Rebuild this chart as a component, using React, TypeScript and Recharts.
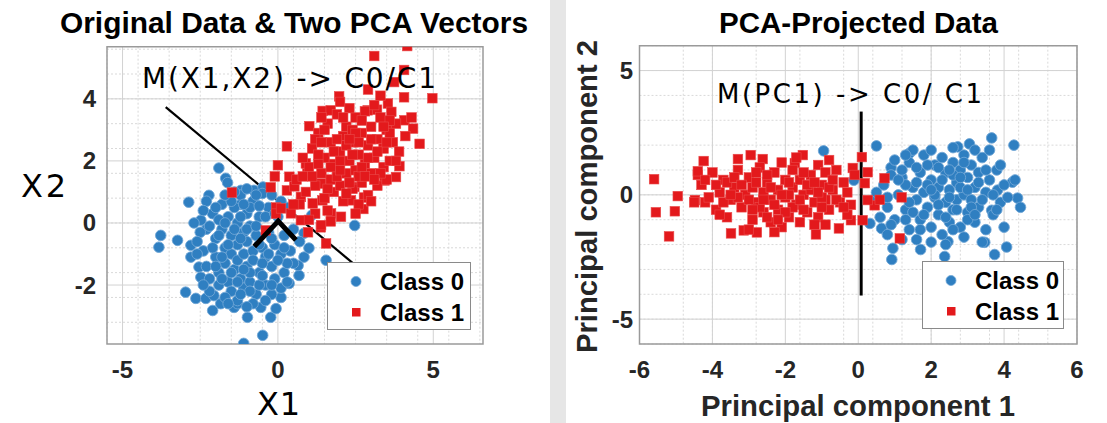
import React from 'react';
import { ScatterChart, Scatter, XAxis, YAxis, CartesianGrid, ReferenceLine, ReferenceArea, Legend } from 'recharts';

// ---------- data: original space (X1, X2) ----------
const origClass0: [number, number][] = [
  [-1.9, 1.77], [-1.68, 1.44], [-1.62, 1.3], [-2.22, 0.89], [-2.87, 0.67], [-3.77, -0.4], [-3.83, -0.78],
  [-3.23, -0.56], [-2.8, -0.72], [-2.48, 0.09], [-2.3, -0.2], [-2.97, -2.23], [-2.64, -2.43], [-2.32, -2.43],
  [-2.1, -2.82], [-1.84, -2.6], [-2.06, -2.34], [-1.41, -2.72], [-1.3, -2.6], [-0.98, -3.04], [-0.55, -2.72],
  [-0.49, -3.62], [-1.1, -3.88], [-0.23, -3.04], [-0.06, -2.76], [0.1, -2.4], [0.1, -2.1], [0.36, -1.95],
  [0.68, -1.69], [0.65, -1.37], [0.84, -1.1], [1.0, -0.81], [0.84, -0.33], [1.09, 0.25], [1.55, -1.2],
  [2.47, -0.08], [-2.8, -1.1], [-2.54, -1.42], [-2.48, -1.75], [-1.19, 1.05], [-0.77, 1.05], [-0.48, 1.16],
  [-1.19, 0.6],
  [-2.5, -0.3], [-2.4, -0.9], [-2.3, -1.4], [-2.2, -1.8], [-2.1, 0.3], [-2.0, -0.5], [-2.0, -1.1], [-1.9, -1.6],
  [-1.9, -2.0], [-1.8, 0.6], [-1.8, -0.2], [-1.7, -0.8], [-1.7, -1.3], [-1.6, 0.2], [-1.6, -1.9], [-1.5, -0.4],
  [-1.5, -1.0], [-1.5, -2.2], [-1.4, 0.5], [-1.4, -1.5], [-1.3, 0.0], [-1.3, -0.7], [-1.3, -1.2], [-1.2, -1.8],
  [-1.2, 0.9], [-1.1, -0.3], [-1.1, -1.0], [-1.1, -2.1], [-1.0, 0.3], [-1.0, -0.6], [-1.0, -1.4], [-0.9, -1.9],
  [-0.9, -0.1], [-0.8, 0.7], [-0.8, -0.9], [-0.8, -1.2], [-0.7, -2.3], [-0.7, -0.4], [-0.6, 0.2], [-0.6, -1.6],
  [-0.5, -0.8], [-0.5, 0.95], [-0.4, -1.1], [-0.4, -2.0], [-0.3, 0.5], [-0.3, -0.3], [-0.2, -1.4], [-0.1, -0.7],
  [-0.1, -1.8], [0.0, 0.2], [0.1, -1.0], [0.2, -0.4], [0.2, -1.6], [0.3, 0.5], [0.4, -0.9], [0.5, -1.3],
  [0.5, -0.2], [-2.6, -0.6], [-2.7, 0.0], [-2.2, -2.2], [-1.9, 0.1], [-2.3, 0.7], [-1.0, 1.1], [-0.7, 0.9],
  [-1.4, 1.0], [0.1, 0.7], [-0.2, 0.9], [-1.6, -0.7], [-1.2, -0.5], [-0.9, -1.6], [-0.6, -2.0], [-0.3, -1.0],
  [-1.8, -1.1], [-2.4, -2.0], [-1.3, -2.5], [-0.8, -2.6], [-1.7, -2.4], [0.7, -0.6], [0.3, -1.3], [-0.2, -2.3],
  [-2.1, -0.8], [-1.9, -0.4], [-1.7, 0.0], [-1.5, 0.7], [-1.4, -0.2], [-1.2, 0.2], [-1.0, -0.2], [-0.9, 0.5],
  [-0.7, -0.1], [-0.6, -0.7], [-0.5, -1.3], [-0.4, 0.2], [-0.2, -0.5], [-0.1, 0.3], [0.0, -1.2], [0.2, -0.8],
  [-1.5, -1.6], [-1.3, -1.9], [-1.1, -1.5], [-0.9, -2.2], [-0.5, -1.7], [-2.0, -1.4], [-1.8, -1.8], [-1.6, -2.6],
  [-1.2, -2.3], [-2.2, -0.1], [-2.6, -1.0], [-0.4, -2.5], [0.3, -1.9], [-1.0, -2.7], [-0.2, -2.0], [-1.7, 0.9],
  [-2.0, 0.5], [-1.1, 0.6], [-0.6, 0.55], [-2.4, 0.4],
];

const origClass1: [number, number][] = [
  [4.16, 5.7], [3.1, 5.38], [3.74, 4.54], [4.06, 4.93], [4.97, 4.02], [4.06, 4.05], [1.97, 4.08], [1.44, 3.61],
  [1.7, 3.63], [1.01, 3.12], [0.29, 2.47], [0.0, 1.86], [-0.1, 1.5], [-0.23, 1.15], [4.56, 2.55], [3.91, 1.83],
  [3.8, 1.48], [3.43, 1.37], [2.77, 0.82], [2.75, 0.45], [2.03, 0.2], [1.71, 0.31], [-0.06, 0.5], [-0.39, -0.24],
  [-1.48, 0.98], [-0.06, 0.3], [0.74, 0.09], [1.38, -0.14], [0.97, -0.3], [1.55, -0.66], [0.29, 1.05],
  [2.89, 3.63], [3.19, 3.65], [3.54, 3.85], [3.65, 3.58], [4.07, 3.31], [4.35, 3.04], [0.37, 1.49], [0.53, 1.18],
  [0.9, 1.92], [0.95, 1.6], [1.39, 1.27], [0.74, 0.84], [1.12, 0.63], [1.43, 0.73], [2.35, 0.73], [2.46, 1.16],
  [1.39, -0.07], [0.42, 0.31], [0.1, 0.47],
  [1.0, 1.8], [1.1, 2.4], [1.2, 1.2], [1.3, 2.9], [1.4, 1.6], [1.5, 2.1], [1.5, 0.8], [1.6, 3.2], [1.7, 1.4],
  [1.7, 2.6], [1.8, 1.0], [1.8, 1.9], [1.9, 3.5], [2.0, 2.3], [2.0, 1.2], [2.1, 2.8], [2.1, 0.7], [2.2, 1.6],
  [2.2, 3.1], [2.3, 2.0], [2.4, 1.1], [2.4, 2.6], [2.5, 3.4], [2.5, 1.7], [2.6, 0.6], [2.6, 2.2], [2.7, 2.9],
  [2.7, 1.3], [2.8, 1.9], [2.8, 3.6], [2.9, 2.5], [2.9, 0.9], [3.0, 1.6], [3.0, 3.1], [3.1, 2.1], [3.2, 2.7],
  [3.2, 1.2], [3.3, 3.4], [3.4, 1.8], [3.4, 2.4], [3.5, 3.0], [3.6, 2.0], [3.7, 2.6], [3.8, 3.2], [3.9, 2.3],
  [0.6, 1.4], [0.7, 0.6], [0.8, 2.1], [0.9, 1.0], [0.5, 0.6], [1.2, 0.3], [1.0, 0.1], [1.6, 0.4], [2.3, 3.7],
  [2.0, 3.9], [1.4, 3.4], [3.1, 3.8], [3.6, 3.3], [3.3, 4.1], [4.1, 2.8], [4.3, 3.4], [2.9, 4.3], [1.7, 0.05],
  [2.5, 0.3], [3.0, 0.7], [1.3, 2.2], [2.2, 2.5], [2.6, 1.5], [1.9, 1.5], [3.5, 1.4], [2.4, 3.0], [1.2, 2.7],
  [1.6, 1.1], [1.8, 2.3], [2.0, 1.7], [2.1, 3.4], [2.3, 1.3], [2.4, 2.2], [2.6, 2.6], [2.7, 1.8], [2.9, 2.1],
  [3.0, 2.7], [3.2, 2.3], [3.3, 1.6], [3.5, 2.6], [3.6, 2.9], [1.4, 2.6], [1.9, 2.7], [2.2, 0.95], [2.8, 1.5],
  [3.1, 1.4], [1.1, 1.5], [1.7, 1.8], [2.5, 2.9], [3.4, 3.1], [2.0, 2.0], [1.3, 1.9], [2.7, 3.3], [3.8, 2.0],
  [1.5, 3.0], [0.8, 1.5], [2.3, 2.7],
];

// ---------- data: PCA-projected space (PC1, PC2) ----------
const pcaClass0: [number, number][] = [
  [0.5, 1.97], [3.66, 2.29], [4.27, 2.0], [3.05, 2.05], [2.73, 1.93], [1.41, 1.68], [4.23, 0.51], [4.37, -0.13],
  [4.45, -0.5], [4.07, -2.1], [3.74, -2.4], [3.47, -1.91], [2.37, -2.48], [1.71, -2.2], [0.95, -2.15], [0.92, -2.6],
  [2.46, -1.88], [0.4, -0.21], [0.32, -1.15], [0.64, -1.35], [-0.95, 1.77], [-0.12, 0.59], [3.82, 0.19], [3.66, -0.62],
  [0.7, 0.4], [0.8, -0.5], [0.9, 1.1], [1.0, -1.0], [1.1, 0.0], [1.2, 0.7], [1.3, -0.6], [1.4, 1.3], [1.4, -1.4],
  [1.5, 0.3], [1.6, -0.2], [1.7, 0.9], [1.7, -1.0], [1.8, 1.6], [1.8, 0.1], [1.9, -0.5], [2.0, 0.6], [2.0, -1.3],
  [2.1, 1.2], [2.1, -0.1], [2.2, 0.3], [2.2, -0.8], [2.3, 1.5], [2.3, -1.6], [2.4, 0.9], [2.4, -0.3], [2.5, 0.2],
  [2.5, -1.1], [2.6, 1.3], [2.6, -0.6], [2.7, 0.5], [2.7, -0.2], [2.8, 1.0], [2.8, -1.3], [2.9, 0.0], [2.9, 1.6],
  [3.0, -0.7], [3.0, 0.7], [3.1, -0.2], [3.1, 1.2], [3.2, 0.3], [3.2, -1.1], [3.3, 0.9], [3.3, -0.5], [3.4, 1.5],
  [3.5, 0.1], [3.5, -1.4], [3.6, 0.6], [3.7, -0.8], [3.8, 1.0], [3.9, -0.3], [4.0, 0.4], [1.2, -1.8], [0.6, -0.9],
  [0.9, 0.8], [1.5, 1.8], [2.0, 1.8], [2.6, 1.9], [3.2, 1.8], [3.6, 1.8], [4.0, -1.3], [3.9, 1.2], [1.6, -1.8],
  [2.9, -1.7], [0.5, 0.1], [1.3, 0.4], [2.4, -2.0], [3.4, -1.9], [4.3, 0.6], [1.0, 1.4], [1.9, 0.4], [2.8, 0.3],
  [2.2, -0.4], [3.0, -1.0], [1.3, -1.0], [2.6, 0.8], [0.8, -1.6], [3.7, 0.0], [2.0, -1.9], [1.6, 1.1],
  [1.1, 0.6], [1.4, -0.3], [1.6, 0.5], [1.8, -0.8], [1.9, 1.2], [2.1, 0.0], [2.3, 0.6], [2.4, -0.9], [2.5, 1.0],
  [2.7, -0.6], [2.8, 0.7], [3.0, 0.2], [3.1, -0.5], [3.3, 0.5], [3.4, -0.2], [2.2, 1.1], [1.7, -1.4], [2.6, -1.4],
  [3.5, 1.0], [0.8, -0.1], [1.2, 1.0], [2.9, 1.3], [1.5, -0.7], [2.0, 0.2], [2.5, -0.1], [3.2, -0.8], [0.9, -1.2],
  [3.8, -0.6], [4.1, -0.1], [1.3, 1.6],
];

const pcaClass1: [number, number][] = [
  [-5.6, 0.63], [-5.55, -0.7], [-5.19, -1.67], [-5.03, -0.66], [-4.95, -0.05], [-4.48, -0.21], [-4.4, 0.8],
  [-4.24, 1.36], [-3.49, -1.55], [-3.3, 1.44], [-2.95, 1.6], [-2.62, 1.44], [-3.14, -1.43], [-2.78, -1.51],
  [-1.52, 1.6], [-1.74, 1.28], [-1.16, -1.59], [-0.53, -1.35], [-0.2, -1.02], [0.1, 1.52], [0.72, 0.67],
  [1.19, -0.1], [1.14, -1.75], [0.45, -0.42], [0.59, -0.2], [0.26, 0.91], [0.18, 0.47], [0.12, -1.02],
  [-0.15, 1.08], [0.26, -0.21],
  [-4.3, 0.4], [-4.2, -0.3], [-4.0, 0.9], [-3.9, -0.6], [-3.8, 0.1], [-3.7, 0.6], [-3.6, -0.9], [-3.5, -0.2],
  [-3.4, 0.3], [-3.3, 1.0], [-3.2, -0.5], [-3.1, 0.0], [-3.0, 0.7], [-2.9, -1.0], [-2.9, 0.3], [-2.8, -0.3],
  [-2.7, 1.1], [-2.6, 0.1], [-2.6, -0.7], [-2.5, 0.5], [-2.4, -1.1], [-2.4, -0.2], [-2.3, 0.9], [-2.2, 0.2],
  [-2.2, -0.6], [-2.1, -1.3], [-2.0, 0.6], [-2.0, -0.1], [-1.9, -0.9], [-1.8, 0.3], [-1.8, 1.0], [-1.7, -0.4],
  [-1.6, -1.1], [-1.6, 0.6], [-1.5, 0.0], [-1.4, -0.7], [-1.3, 0.8], [-1.3, 0.2], [-1.2, -0.3], [-1.1, 1.2],
  [-1.1, -0.9], [-1.0, 0.4], [-0.9, -0.2], [-0.9, 0.9], [-0.8, -0.6], [-0.7, 0.2], [-0.6, 1.0], [-0.5, -0.3],
  [-0.4, 0.5], [-0.3, -0.8], [-0.3, 0.1], [-0.1, 0.8], [-3.6, 0.5], [-2.5, -0.9], [-1.9, 0.0], [-2.7, -0.5],
  [-3.3, -0.1], [-4.5, -0.3], [-4.4, 0.95], [-2.1, 1.3], [-1.2, -1.2], [-0.8, 1.4], [-3.0, -1.4], [-2.3, -1.5],
  [-1.7, 1.5], [-0.2, -0.4], [-1.0, -0.5], [-2.8, 0.9], [-3.9, 0.4], [-1.5, -0.6],
  [-4.1, -0.1], [-3.7, -0.3], [-3.4, 0.7], [-3.2, 0.4], [-3.0, -0.2], [-2.8, 0.5], [-2.6, -0.2], [-2.4, 0.3],
  [-2.3, -0.4], [-2.1, 0.0], [-1.9, 0.5], [-1.8, -0.5], [-1.6, -0.2], [-1.4, 0.4], [-1.2, 0.5], [-1.0, -0.1],
  [-0.8, 0.3], [-0.6, -0.2], [-0.4, -0.5], [-2.5, 0.8], [-2.0, -0.7], [-3.5, 0.0], [-2.9, -0.6], [-1.1, 0.1],
  [-0.7, 0.6], [-3.8, -0.8], [-4.2, 0.6], [-2.2, -1.0], [-1.5, 0.9], [-0.9, -1.2],
];

// ---------- annotation geometry (data coordinates) ----------
const leftBoundary: [number, number][] = [[-3.61, 3.73], [2.42, -1.3]];
const leftChevron: [number, number][] = [[-0.76, -0.76], [0.01, 0.06], [0.58, -0.55]];
const rightBoundary: [number, number][] = [[0.08, 3.35], [0.08, -4.05]];

// ---------- axes ----------
const leftXTicks = [-5, 0, 5];
const leftYTicks = [-2, 0, 2, 4];
const rightXTicks = [-6, -4, -2, 0, 2, 4, 6];
const rightYTicks = [-5, 0, 5];
const leftXDomain: [number, number] = [-5.5, 6.6];
const leftYDomain: [number, number] = [-3.9, 5.68];
const rightXDomain: [number, number] = [-6, 6];
const rightYDomain: [number, number] = [-6, 6];

const toPts = (a: [number, number][]) => a.map(([x, y]) => ({ x, y }));

const gridValues = (dom: [number, number], step: number) => {
  const out: number[] = [];
  const start = Math.ceil(dom[0] / step);
  const end = Math.floor(dom[1] / step);
  for (let i = start; i <= end; i++) out.push(Math.round(i * step * 1000) / 1000);
  return out;
};

const BLUE = '#2f7fc1';
const BLUE_EDGE = '#6fa6d6';
const RED = '#e3191c';
const RED_EDGE = '#ea4b4b';
const SANS = '"Liberation Sans", Arial, sans-serif';
const DEJAVU = '"DejaVu Sans", sans-serif';
const TICK_COLOR = '#262626';

const Circle = (p: any) => (
  <circle cx={p.cx} cy={p.cy} r={5.3} fill={BLUE} stroke={BLUE_EDGE} strokeWidth={0.9} />
);
const Square = (p: any) => (
  <rect x={p.cx - 4.8} y={p.cy - 4.8} width={9.6} height={9.6} fill={RED} stroke={RED_EDGE} strokeWidth={0.6} />
);
const Empty = () => <g />;

const makeXTick = () => (p: any) => (
  <text x={p.x} y={p.y + 34} textAnchor="middle" fontFamily={SANS} fontWeight="bold" fontSize={24} fill={TICK_COLOR}>
    {String(p.payload.value)}
  </text>
);
const makeYTick = (gap: number) => (p: any) => (
  <text x={p.x - gap} y={p.y + 8.5} textAnchor="end" fontFamily={SANS} fontWeight="bold" fontSize={24} fill={TICK_COLOR}>
    {String(p.payload.value)}
  </text>
);

const LegendBox = ({ w }: { w: number }) => (
  <div style={{ width: w, height: 68, border: '1px solid #8a8a8a', background: '#fff', boxSizing: 'border-box' }}>
    <svg width={w - 2} height={66} style={{ display: 'block' }}>
      <circle cx={28} cy={18.5} r={5} fill={BLUE} stroke={BLUE_EDGE} strokeWidth={0.8} />
      <text x={52} y={27} fontFamily={SANS} fontWeight="bold" fontSize={24} fill="#000">Class 0</text>
      <rect x={24} y={45} width={8.5} height={8.5} fill={RED} />
      <text x={52} y={57.5} fontFamily={SANS} fontWeight="bold" fontSize={24} fill="#000">Class 1</text>
    </svg>
  </div>
);

const MAJOR = '#d2d2d2';
const MINOR = '#d9d9d9';
const BOX = '#9a9a9a';

export default function App() {
  const o0 = toPts(origClass0);
  const o1 = toPts(origClass1);
  const p0 = toPts(pcaClass0);
  const p1 = toPts(pcaClass1);
  const chev = toPts(leftChevron);
  const lb = toPts(leftBoundary);
  const rb = toPts(rightBoundary);

  return (
    <div style={{ position: 'absolute', left: 0, top: 0, width: 1107, height: 423, background: '#fff', overflow: 'hidden' }}>
      {/* left panel */}
      <div style={{ position: 'absolute', left: 0, top: 0 }}>
        <ScatterChart width={560} height={423} margin={{ top: 46.7, right: 77, bottom: 0, left: 0 }}>
          <CartesianGrid
            verticalValues={gridValues(leftXDomain, 0.5)}
            horizontalValues={gridValues(leftYDomain, 0.4)}
            stroke={MINOR}
            strokeDasharray="2 2"
          />
          <CartesianGrid verticalValues={leftXTicks} horizontalValues={leftYTicks} stroke={MAJOR} />
          <XAxis type="number" dataKey="x" domain={leftXDomain} ticks={leftXTicks} allowDataOverflow
            axisLine={false} tickLine={false} tickSize={0} tickMargin={0} height={79} tick={makeXTick()} />
          <YAxis type="number" dataKey="y" domain={leftYDomain} ticks={leftYTicks} allowDataOverflow
            axisLine={false} tickLine={false} tickSize={0} tickMargin={0} width={107} tick={makeYTick(11)} />
          <ReferenceArea x1={leftXDomain[0]} x2={leftXDomain[1]} y1={leftYDomain[0]} y2={leftYDomain[1]}
            fill="none" stroke={BOX} strokeWidth={1.5} fillOpacity={0} ifOverflow="visible" />
          <Scatter name="Class 0" data={o0} shape={Circle} isAnimationActive={false} />
          <Scatter name="Class 1" data={o1} shape={Square} isAnimationActive={false} />
          <ReferenceLine segment={[lb[0], lb[1]]} stroke="#000" strokeWidth={2.2} ifOverflow="visible" />
          <Scatter data={chev} shape={Empty} line={{ stroke: '#000', strokeWidth: 5 }} legendType="none" isAnimationActive={false} />
          <Legend layout="horizontal" verticalAlign="middle" align="center"
            wrapperStyle={{ left: 327, top: 262, width: 144, height: 68 }}
            content={() => <LegendBox w={144} />} />
        </ScatterChart>
      </div>

      {/* right panel */}
      <div style={{ position: 'absolute', left: 560, top: 0 }}>
        <ScatterChart width={547} height={423} margin={{ top: 45.7, right: 30, bottom: 0, left: 0 }}>
          <CartesianGrid
            verticalValues={gridValues(rightXDomain, 0.4)}
            horizontalValues={gridValues(rightYDomain, 0.5)}
            stroke={MINOR}
            strokeDasharray="2 2"
          />
          <CartesianGrid verticalValues={rightXTicks} horizontalValues={rightYTicks} stroke={MAJOR} />
          <XAxis type="number" dataKey="x" domain={rightXDomain} ticks={rightXTicks} allowDataOverflow
            axisLine={false} tickLine={false} tickSize={0} tickMargin={0} height={79} tick={makeXTick()} />
          <YAxis type="number" dataKey="y" domain={rightYDomain} ticks={rightYTicks} allowDataOverflow
            axisLine={false} tickLine={false} tickSize={0} tickMargin={0} width={79.5} tick={makeYTick(6.5)} />
          <ReferenceArea x1={rightXDomain[0]} x2={rightXDomain[1]} y1={rightYDomain[0]} y2={rightYDomain[1]}
            fill="none" stroke={BOX} strokeWidth={1.5} fillOpacity={0} ifOverflow="visible" />
          <Scatter name="Class 0" data={p0} shape={Circle} isAnimationActive={false} />
          <Scatter name="Class 1" data={p1} shape={Square} isAnimationActive={false} />
          <ReferenceLine segment={[rb[0], rb[1]]} stroke="#000" strokeWidth={3} ifOverflow="visible" />
          <Legend layout="horizontal" verticalAlign="middle" align="center"
            wrapperStyle={{ left: 361.7, top: 261, width: 142, height: 68 }}
            content={() => <LegendBox w={142} />} />
        </ScatterChart>
      </div>

      {/* separator band */}
      <div style={{ position: 'absolute', left: 550, top: 0, width: 16, height: 423, background: '#e6e6e6' }} />

      {/* text overlay */}
      <svg width={1107} height={423} style={{ position: 'absolute', left: 0, top: 0, pointerEvents: 'none' }}>
        <text x={60} y={33} textLength={468} lengthAdjust="spacingAndGlyphs" fontFamily={SANS} fontWeight="bold" fontSize={29} fill="#000">
          Original Data &amp; Two PCA Vectors
        </text>
        <text x={719} y={33} textLength={279} lengthAdjust="spacingAndGlyphs" fontFamily={SANS} fontWeight="bold" fontSize={29} fill="#000">
          PCA-Projected Data
        </text>
        <text x={142} y={88} textLength={294} lengthAdjust="spacing" fontFamily={DEJAVU} fontSize={28} fill="#000">
          M(X1,X2) -&gt; C0/C1
        </text>
        <text x={717} y={103} textLength={265} lengthAdjust="spacing" fontFamily={DEJAVU} fontSize={26} fill="#000">
          M(PC1) -&gt; C0/ C1
        </text>
        <text x={257} y={415} textLength={43} lengthAdjust="spacing" fontFamily={DEJAVU} fontSize={32} fill="#000">X1</text>
        <text x={21} y={197} textLength={45} lengthAdjust="spacing" fontFamily={DEJAVU} fontSize={32} fill="#000">X2</text>
        <text x={701} y={416} textLength={314} lengthAdjust="spacingAndGlyphs" fontFamily={SANS} fontWeight="bold" fontSize={29} fill={TICK_COLOR}>
          Principal component 1
        </text>
        <text transform="translate(597,353) rotate(-90)" x={0} y={0} textLength={313} lengthAdjust="spacingAndGlyphs"
          fontFamily={SANS} fontWeight="bold" fontSize={29} fill={TICK_COLOR}>
          Principal component 2
        </text>
      </svg>
    </div>
  );
}
